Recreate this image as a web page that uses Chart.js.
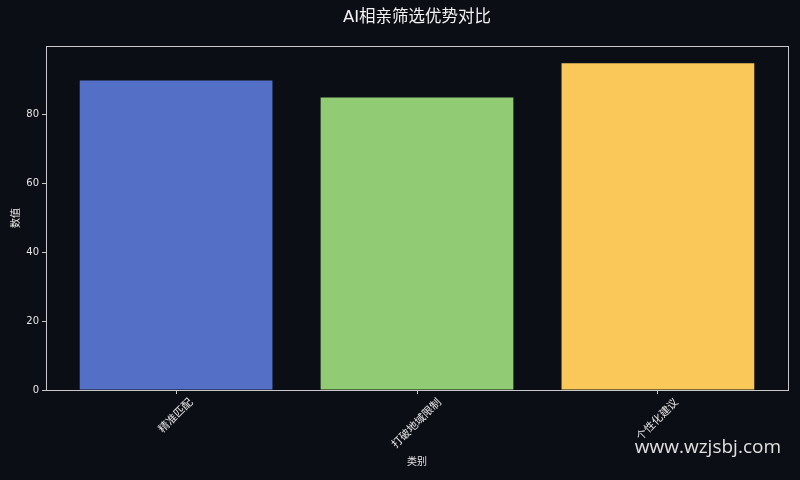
<!DOCTYPE html>
<html>
<head>
<meta charset="utf-8">
<script src="https://cdn.jsdelivr.net/npm/chart.js@4.4.1/dist/chart.umd.min.js"></script>
<style>
  html, body { margin: 0; padding: 0; background: #0c0e15; }
  #wrap { width: 800px; height: 480px; }
</style>
</head>
<body>
<div id="wrap"><canvas id="chart" width="800" height="480"></canvas></div>
<script>
// AI相亲筛选优势对比 - bar chart

const categories = ['精准匹配', '打破地域限制', '个性化建议'];
const values = [90, 85, 95];
const barColors = ['#5470c6', '#91cc75', '#fac858'];
const yTicks = [0, 20, 40, 60, 80];

const fontFamily = '"DejaVu Sans", "Noto Sans CJK SC", sans-serif';
const axisColor = '#c8c8c8';
const textColor = '#e6e6e6';
const xLabelSize = 10.8;

// background, frame, centred 45deg category labels and the site mark
const decor = {
    id: 'decor',
    beforeDraw(chart) {
        const ctx = chart.ctx;
        ctx.save();
        ctx.fillStyle = '#0c0e15';
        ctx.fillRect(0, 0, chart.width, chart.height);
        ctx.restore();
    },
    afterDraw(chart) {
        const ctx = chart.ctx;
        const a = chart.chartArea;
        const xs = chart.scales.x;
        ctx.save();
        ctx.strokeStyle = axisColor;
        ctx.lineWidth = 1;
        ctx.strokeRect(a.left + 0.5, a.top + 0.5, a.right - a.left, a.bottom - a.top);

        // labels rotated around their centre, like the reference
        ctx.font = xLabelSize + 'px ' + fontFamily;
        ctx.fillStyle = textColor;
        ctx.textAlign = 'center';
        ctx.textBaseline = 'middle';
        const top = a.bottom + 7;
        categories.forEach((c, i) => {
            const w = ctx.measureText(c).width;
            const ext = (w + xLabelSize) / Math.SQRT2;
            ctx.save();
            ctx.translate(xs.getPixelForValue(i), top + ext / 2);
            ctx.rotate(-Math.PI / 4);
            ctx.fillText(c, 0, 0);
            ctx.restore();
        });

        ctx.font = '19px "Open Sans", "DejaVu Sans", sans-serif';
        ctx.fillStyle = '#e0e0e0';
        ctx.textAlign = 'right';
        ctx.textBaseline = 'middle';
        ctx.fillText('www.wzjsbj.com', 781, 448);
        ctx.restore();
    }
};

const ctx = document.getElementById('chart').getContext('2d');
new Chart(ctx, {
    type: 'bar',
    data: {
        datasets: [{
            data: values.map((v, i) => ({ x: i, y: v })),
            backgroundColor: barColors,
            borderWidth: 0,
            categoryPercentage: 0.8,
            barPercentage: 1.0
        }]
    },
    options: {
        responsive: false,
        animation: false,
        layout: { padding: { left: 0, right: 12, top: 0, bottom: 0 } },
        plugins: {
            legend: { display: false },
            tooltip: { enabled: false },
            title: {
                display: true,
                text: 'AI相亲筛选优势对比',
                color: '#f2f2f2',
                fullSize: false,
                font: { family: fontFamily, size: 16.5, weight: 'normal' },
                padding: { top: 8, bottom: 18.2 }
            }
        },
        scales: {
            x: {
                type: 'linear',
                offset: false,
                min: -0.54,
                max: 2.54,
                afterBuildTicks: (scale) => {
                    scale.ticks = categories.map((c, i) => ({ value: i }));
                },
                afterFit: (scale) => { scale.height = 90; },
                ticks: { display: false },
                grid: { display: true, offset: false, drawOnChartArea: false, drawTicks: true, tickLength: 4, color: axisColor },
                border: { display: false },
                title: {
                    display: true,
                    text: '类别',
                    color: textColor,
                    font: { family: fontFamily, size: 10 },
                    padding: { top: 4, bottom: 12 }
                }
            },
            y: {
                min: 0,
                max: 100,
                afterBuildTicks: (scale) => {
                    scale.ticks = yTicks.map(v => ({ value: v }));
                },
                afterFit: (scale) => { scale.width = 46; },
                ticks: {
                    color: textColor,
                    font: { family: fontFamily, size: 10 },
                    padding: 3
                },
                grid: { display: true, drawOnChartArea: false, drawTicks: true, tickLength: 4, color: axisColor },
                border: { display: false },
                title: {
                    display: true,
                    text: '数值',
                    color: textColor,
                    font: { family: fontFamily, size: 10 },
                    padding: { top: 10, bottom: 0 }
                }
            }
        }
    },
    plugins: [decor]
});
</script>
</body>
</html>
